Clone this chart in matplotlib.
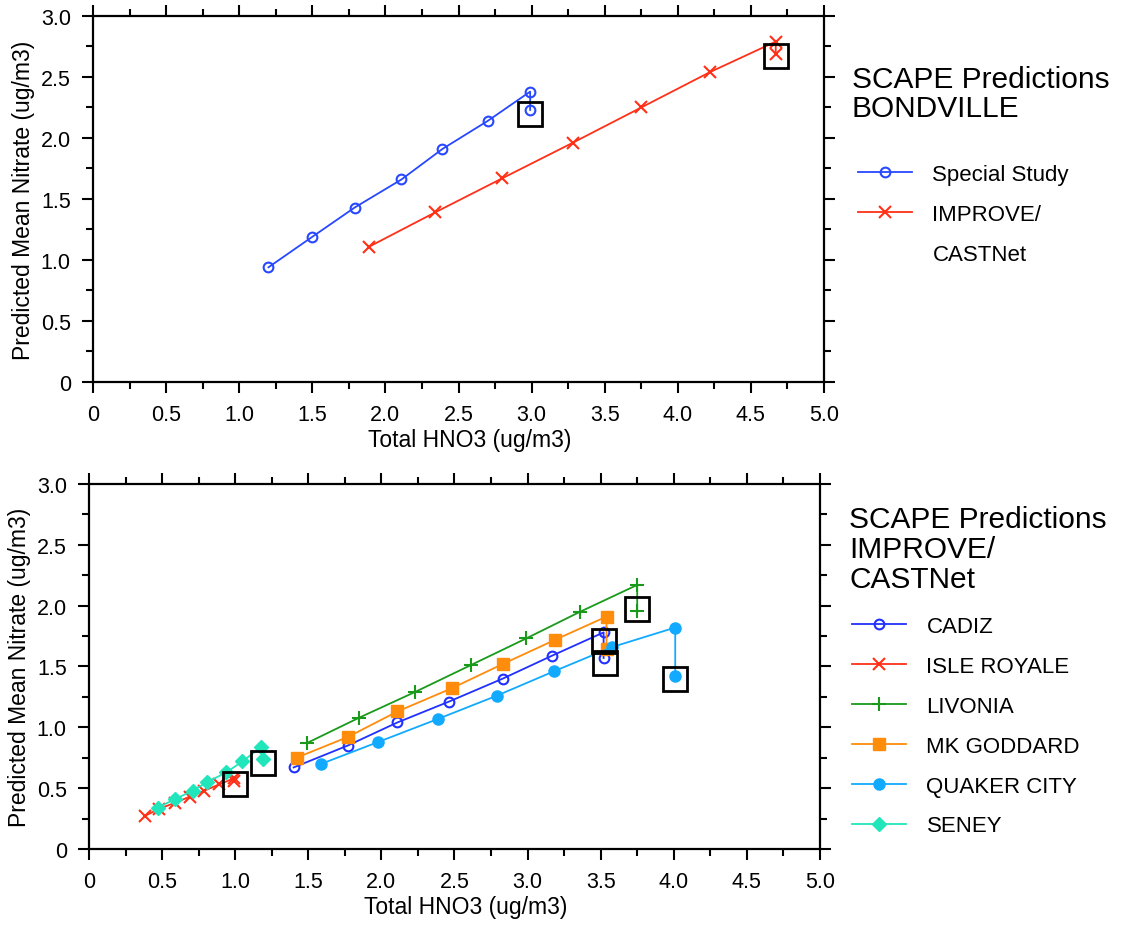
import matplotlib
matplotlib.use("Agg")
import matplotlib.pyplot as plt
from matplotlib.ticker import MultipleLocator, FuncFormatter
from matplotlib.lines import Line2D

plt.rcParams['font.family'] = ['Liberation Sans', 'DejaVu Sans']

# === Bondville: model runs, last point = observed HNO3 ===
special_x = [1.20, 1.50, 1.79, 2.11, 2.39, 2.70, 2.99, 2.99]
special_y = [0.94, 1.19, 1.43, 1.66, 1.91, 2.14, 2.38, 2.23]
improve_x = [1.89, 2.34, 2.80, 3.28, 3.75, 4.22, 4.67, 4.67]
improve_y = [1.11, 1.39, 1.67, 1.96, 2.25, 2.54, 2.79, 2.69]
bond_obs_x = [2.99, 4.67]
bond_obs_y = [2.20, 2.67]

# === IMPROVE / CASTNet sites ===
cadiz_x = [1.40, 1.77, 2.11, 2.46, 2.83, 3.17, 3.52, 3.52]
cadiz_y = [0.67, 0.85, 1.04, 1.21, 1.40, 1.59, 1.78, 1.57]
isle_x = [0.38, 0.48, 0.59, 0.69, 0.79, 0.89, 0.99, 0.99]
isle_y = [0.27, 0.33, 0.38, 0.43, 0.48, 0.53, 0.58, 0.56]
livonia_x = [1.49, 1.85, 2.23, 2.61, 2.99, 3.36, 3.75, 3.75]
livonia_y = [0.87, 1.08, 1.29, 1.51, 1.73, 1.95, 2.17, 1.96]
goddard_x = [1.42, 1.77, 2.11, 2.48, 2.83, 3.19, 3.54, 3.54]
goddard_y = [0.75, 0.92, 1.13, 1.32, 1.52, 1.72, 1.91, 1.64]
quaker_x = [1.59, 1.98, 2.39, 2.79, 3.18, 3.58, 4.01, 4.01]
quaker_y = [0.70, 0.88, 1.07, 1.26, 1.46, 1.66, 1.82, 1.42]
seney_x = [0.47, 0.59, 0.71, 0.81, 0.94, 1.05, 1.18, 1.19]
seney_y = [0.34, 0.41, 0.48, 0.55, 0.63, 0.72, 0.84, 0.74]
site_obs_x = [3.53, 1.00, 3.75, 3.52, 4.01, 1.19]
site_obs_y = [1.53, 0.53, 1.97, 1.71, 1.40, 0.71]


def fmt(v, pos):
    return "0" if abs(v) < 1e-9 else "%.1f" % v


def style_axes(ax):
    ax.set_xlim(0, 5)
    ax.set_ylim(0, 3)
    ax.xaxis.set_major_locator(MultipleLocator(0.5))
    ax.xaxis.set_minor_locator(MultipleLocator(0.25))
    ax.yaxis.set_major_locator(MultipleLocator(0.5))
    ax.yaxis.set_minor_locator(MultipleLocator(0.25))
    ax.xaxis.set_major_formatter(FuncFormatter(fmt))
    ax.yaxis.set_major_formatter(FuncFormatter(fmt))
    ax.tick_params(which='both', direction='out', top=True, right=True,
                   labeltop=False, labelright=False, width=1.5)
    ax.tick_params(which='major', length=8, labelsize=15.5, pad=8)
    ax.tick_params(which='minor', length=5)
    for s in ax.spines.values():
        s.set_linewidth(1.6)
    ax.set_xlabel("Total HNO3 (ug/m3)", fontsize=16.5)
    ax.xaxis.set_label_coords(0.515, -0.125)
    ax.set_ylabel("Predicted Mean Nitrate (ug/m3)", fontsize=16.5, labelpad=4)


fig = plt.figure(figsize=(11.22, 9.28), dpi=100)

# === Top panel: Bondville ===
ax1 = fig.add_axes([0.0829, 0.5873, 0.6515, 0.3944])
ax1.plot(special_x, special_y, color='#2848ff', lw=1.3, marker='o', ms=7,
         mfc='none', mew=1.5, label='Special Study')
ax1.plot(improve_x, improve_y, color='#ff3018', lw=1.3, marker='x', ms=9,
         mew=1.5, label='IMPROVE/')
ax1.plot(bond_obs_x, bond_obs_y, ls='none', marker='s', ms=17, mfc='none',
         mec='black', mew=2)
style_axes(ax1)

h1, l1 = ax1.get_legend_handles_labels()
h1.append(Line2D([], [], ls='none'))
l1.append('CASTNet')
fig.legend(h1, l1, loc='upper left', bbox_to_anchor=(0.7647, 0.8222),
           frameon=False, fontsize=16, handlelength=2.45, handletextpad=0.9,
           labelspacing=0.85, borderpad=0, borderaxespad=0)
fig.text(0.759, 0.929, "SCAPE Predictions\nBONDVILLE", fontsize=21.5,
         va='top', ha='left', linespacing=1.05)

# === Bottom panel: IMPROVE/CASTNet sites ===
ax2 = fig.add_axes([0.0793, 0.0841, 0.6515, 0.3933])
ax2.plot(cadiz_x, cadiz_y, color='#2030ff', lw=1.3, marker='o', ms=7,
         mfc='none', mew=1.5, label='CADIZ')
ax2.plot(isle_x, isle_y, color='#ff3018', lw=1.3, marker='x', ms=8,
         mew=1.5, label='ISLE ROYALE')
ax2.plot(livonia_x, livonia_y, color='#1a9a1a', lw=1.3, marker='+', ms=10,
         mew=1.5, label='LIVONIA')
ax2.plot(goddard_x, goddard_y, color='#ff8c0a', lw=1.3, marker='s', ms=8,
         label='MK GODDARD')
ax2.plot(quaker_x, quaker_y, color='#12aaff', lw=1.3, marker='o', ms=8,
         label='QUAKER CITY')
ax2.plot(seney_x, seney_y, color='#22e6bb', lw=1.3, marker='D', ms=7,
         label='SENEY')
ax2.plot(site_obs_x, site_obs_y, ls='none', marker='s', ms=17, mfc='none',
         mec='black', mew=2)
style_axes(ax2)

fig.legend(*ax2.get_legend_handles_labels(), loc='upper left',
           bbox_to_anchor=(0.7594, 0.3351), frameon=False, fontsize=16,
           handlelength=2.45, handletextpad=0.9, labelspacing=0.85,
           borderpad=0, borderaxespad=0)
fig.text(0.757, 0.455, "SCAPE Predictions\nIMPROVE/\nCASTNet", fontsize=21.5,
         va='top', ha='left', linespacing=1.1)

fig.savefig("out.png", dpi=100)
